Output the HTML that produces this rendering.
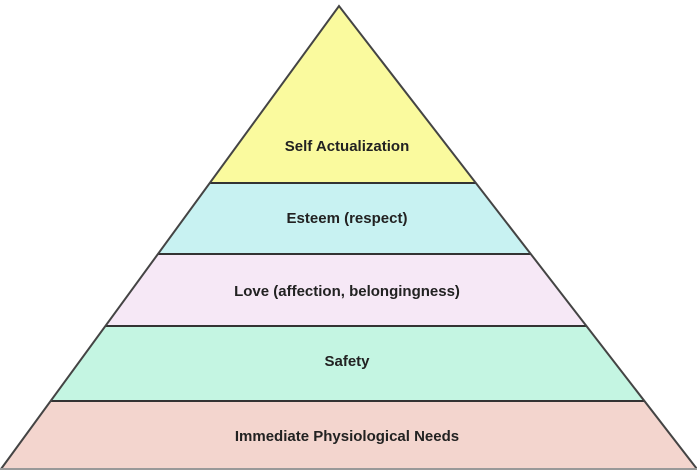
<!DOCTYPE html>
<html><head><style>body{margin:0;background:#fff}svg{display:block}</style></head><body>
<svg width="697" height="470" xmlns="http://www.w3.org/2000/svg">
<defs><clipPath id="t"><polygon points="339,6 1,469 697,469"/></clipPath></defs>
<g clip-path="url(#t)">
<rect x="0" y="0" width="697" height="183" fill="#fafa9e"/>
<rect x="0" y="183" width="697" height="71" fill="#c8f2f2"/>
<rect x="0" y="254" width="697" height="72" fill="#f6e8f6"/>
<rect x="0" y="326" width="697" height="75" fill="#c4f5e2"/>
<rect x="0" y="401" width="697" height="70" fill="#f3d5ce"/>
<g stroke="#333" stroke-width="2">
<line x1="0" y1="183" x2="697" y2="183"/>
<line x1="0" y1="254" x2="697" y2="254"/>
<line x1="0" y1="326" x2="697" y2="326"/>
<line x1="0" y1="401" x2="697" y2="401"/>
</g>
</g>
<polyline points="1,469 339,6 697,469" fill="none" stroke="#444" stroke-width="2"/>
<line x1="0" y1="469" x2="697" y2="469" stroke="#999" stroke-width="2"/>
<g font-family="Liberation Sans, sans-serif" font-weight="bold" font-size="15" fill="#222" text-anchor="middle">
<text x="347" y="151">Self Actualization</text>
<text x="347" y="223">Esteem (respect)</text>
<text x="347" y="296">Love (affection, belongingness)</text>
<text x="347" y="366">Safety</text>
<text x="347" y="441">Immediate Physiological Needs</text>
</g>
</svg>
</body></html>
